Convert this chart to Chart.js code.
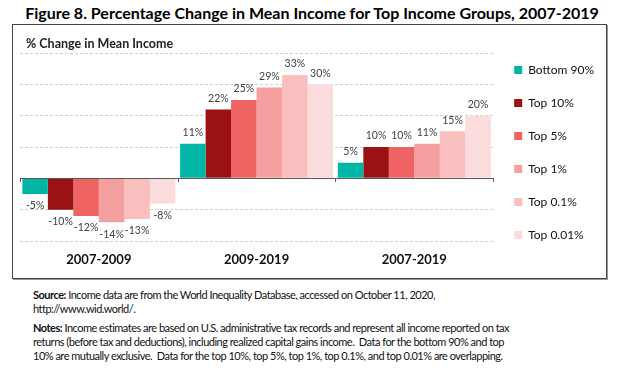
<!DOCTYPE html>
<html>
<head>
<meta charset="utf-8">
<script src="https://cdn.jsdelivr.net/npm/chart.js@4"></script>
<style>
  body { margin: 0; background: #fff; width: 624px; height: 370px; position: relative; font-family: Lato, "Open Sans", sans-serif; color: #000; }
  #title { position: absolute; left: 0; width: 624px; top: 3px; text-align: center; font-weight: bold; font-size: 16px; white-space: nowrap; }
  #box { position: absolute; left: 12px; top: 24px; width: 593px; height: 253px; border: 1px solid #444; box-shadow: 1px 1px 0 #999; }
  #notes { position: absolute; left: 33px; top: 288px; font-size: 11px; line-height: 14px; white-space: nowrap; color: #111; letter-spacing: -0.5px; }
  #notes p { margin: 0 0 5px 0; }
</style>
</head>
<body>
<div id="title">Figure 8. Percentage Change in Mean Income for Top Income Groups, 2007-2019</div>
<div id="box">
  <canvas id="myChart" width="593" height="253"></canvas>
</div>
<div id="notes">
  <p><b>Source:</b> Income data are from the World Inequality Database, accessed on October 11, 2020,<br>http://www.wid.world/.</p>
  <p><b>Notes:</b> Income estimates are based on U.S. administrative tax records and represent all income reported on tax<br>returns (before tax and deductions), including realized capital gains income.&nbsp; Data for the bottom 90% and top<br>10% are mutually exclusive.&nbsp; Data for the top 10%, top 5%, top 1%, top 0.1%, and top 0.01% are overlapping.</p>
</div>
<script>
let periods = ['2007-2009', '2009-2019', '2007-2019'];
let groups = ['Bottom 90%', 'Top 10%', 'Top 5%', 'Top 1%', 'Top 0.1%', 'Top 0.01%'];
let bottom90 = [-5, 11, 5];
let top10 = [-10, 22, 10];
let top5 = [-12, 25, 10];
let top1 = [-14, 29, 11];
let top01 = [-13, 33, 15];
let top001 = [-8, 30, 20];
let colors = ['#00b5a6', '#9b1212', '#f06363', '#f5a0a0', '#f9bebe', '#fbdcdd'];

let series = [bottom90, top10, top5, top1, top01, top001];

// value labels above / below each bar
let barLabels = {
    id: 'barLabels',
    afterDatasetsDraw(chart) {
        let ctx = chart.ctx;
        ctx.save();
        ctx.font = '10.5px Lato, sans-serif';
        ctx.fillStyle = '#404040';
        ctx.textAlign = 'center';
        ctx.textBaseline = 'middle';
        chart.data.datasets.forEach((ds, i) => {
            chart.getDatasetMeta(i).data.forEach((bar, j) => {
                let v = ds.data[j];
                let y = v < 0 ? bar.y + 12 : bar.y - 11;
                ctx.fillText(v + '%', bar.x, y);
            });
        });
        ctx.restore();
    }
};

// zero axis line with tick marks between categories
let zeroAxis = {
    id: 'zeroAxis',
    afterDatasetsDraw(chart) {
        let ctx = chart.ctx;
        let x = chart.scales.x, y = chart.scales.y;
        let y0 = Math.round(y.getPixelForValue(0));
        ctx.save();
        ctx.strokeStyle = '#595959';
        ctx.lineWidth = 1;
        ctx.beginPath();
        ctx.moveTo(x.left, y0 + 0.5);
        ctx.lineTo(x.right, y0 + 0.5);
        for (let i = 0; i <= periods.length; i++) {
            let px = Math.round(x.left + (x.right - x.left) * i / periods.length) + 0.5;
            ctx.moveTo(px, y0);
            ctx.lineTo(px, y0 + 4);
        }
        ctx.stroke();
        ctx.restore();
    }
};

let chart = new Chart(document.getElementById('myChart').getContext('2d'), {
    type: 'bar',
    data: {
        labels: periods,
        datasets: series.map((d, i) => ({
            label: groups[i],
            data: d,
            backgroundColor: colors[i],
            borderWidth: 0
        }))
    },
    options: {
        responsive: false,
        animation: false,
        layout: { padding: { left: 7, top: 2, right: 2, bottom: 0 } },
        datasets: { bar: { categoryPercentage: 0.97, barPercentage: 1 } },
        scales: {
            y: {
                min: -20, max: 40,
                ticks: { display: false, stepSize: 10 },
                grid: { color: '#d0d0d0', drawTicks: false },
                border: { display: false, dash: [3, 2] }
            },
            x: {
                grid: { display: false, drawTicks: false, tickLength: 0 },
                border: { display: false },
                ticks: { padding: 11, color: '#111', font: { family: 'Lato', size: 13, weight: 'bold' } },
                afterFit: s => { s.height = 37; }
            }
        },
        plugins: {
            title: {
                display: true,
                text: '\u00a0\u00a0% Change in Mean Income',
                align: 'start',
                fullSize: false,
                color: '#222',
                padding: { top: 9, bottom: 2 },
                font: { family: 'Lato', size: 12.5, weight: 'bold' }
            },
            legend: {
                position: 'right',
                labels: {
                    boxWidth: 8, boxHeight: 8, padding: 21,
                    color: '#111',
                    font: { family: 'Lato', size: 12 }
                }
            },
            tooltip: { enabled: false }
        }
    },
    plugins: [barLabels, zeroAxis]
});
</script>
</body>
</html>
